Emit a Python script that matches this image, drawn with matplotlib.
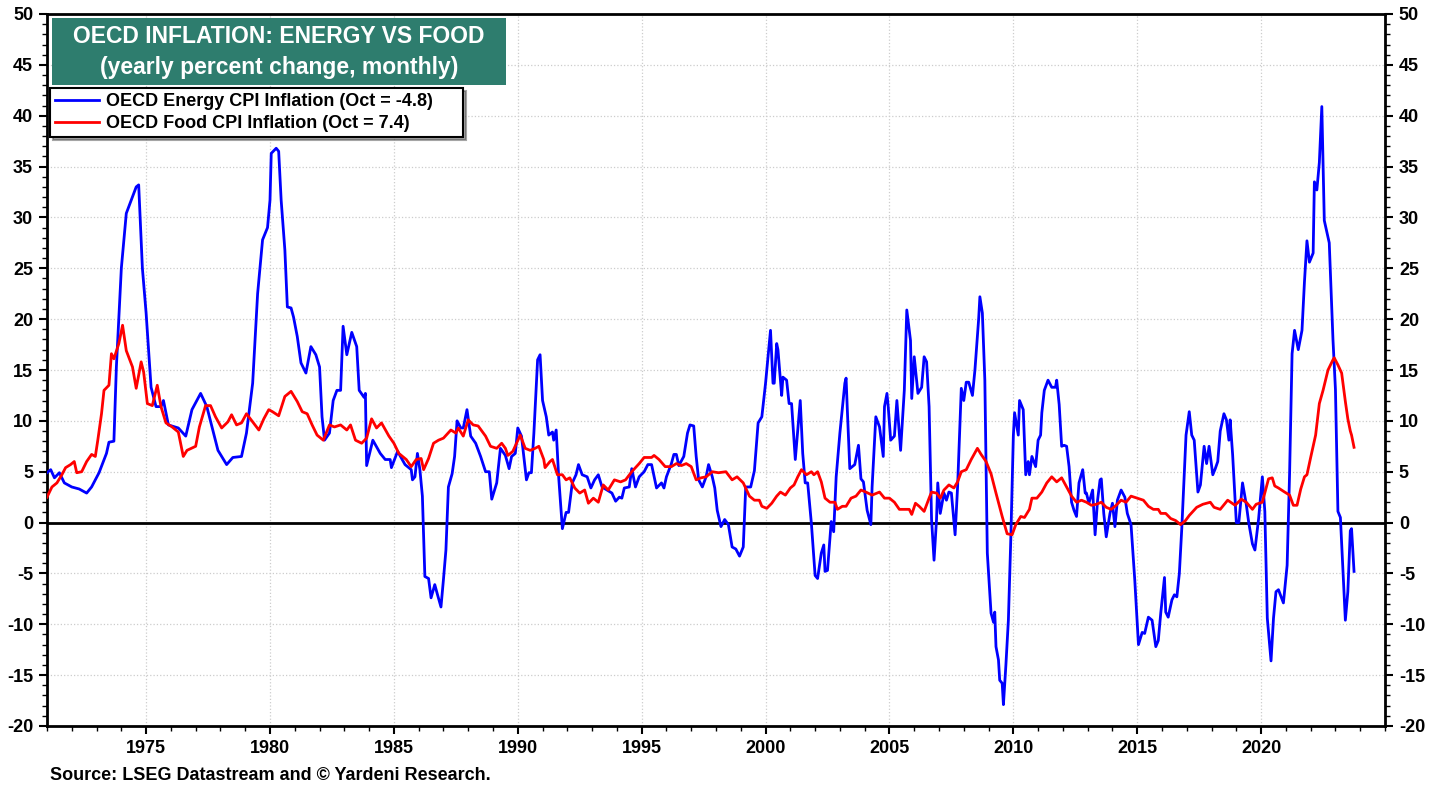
import matplotlib
matplotlib.use("Agg")
import matplotlib.pyplot as plt
from matplotlib.ticker import MultipleLocator
from matplotlib.patches import Rectangle

# OECD energy CPI inflation, (decimal year, y/y %)
energy_points = [
    (1971.0, 4.9), (1971.15, 5.2), (1971.3, 4.4), (1971.5, 4.9), (1971.7, 3.9),
    (1972.0, 3.5), (1972.3, 3.3), (1972.6, 2.9), (1972.8, 3.5),
    (1973.1, 4.9), (1973.4, 6.8), (1973.5, 7.9), (1973.7, 8.0), (1973.8, 15.3),
    (1974.0, 25.0), (1974.2, 30.4), (1974.4, 31.7), (1974.6, 33.0), (1974.7, 33.2), (1974.85, 25.0),
    (1975.0, 20.6), (1975.2, 13.3), (1975.4, 11.4), (1975.6, 11.4), (1975.7, 12.0), (1975.9, 9.6),
    (1976.3, 9.3), (1976.6, 8.5), (1976.85, 11.1),
    (1977.2, 12.7), (1977.45, 11.4), (1977.9, 7.1),
    (1978.25, 5.7), (1978.5, 6.4), (1978.85, 6.5),
    (1979.05, 8.8), (1979.3, 13.7), (1979.5, 22.5), (1979.7, 27.8), (1979.9, 29.0),
    (1980.0, 31.7), (1980.05, 36.3), (1980.25, 36.8), (1980.35, 36.5), (1980.45, 31.7),
    (1980.6, 26.8), (1980.7, 21.2), (1980.85, 21.1), (1980.95, 20.2),
    (1981.1, 18.3), (1981.25, 15.7), (1981.45, 14.7), (1981.65, 17.3), (1981.85, 16.5),
    (1982.0, 15.3), (1982.1, 10.4), (1982.2, 8.1), (1982.4, 8.8), (1982.55, 12.0),
    (1982.7, 13.0), (1982.85, 13.0), (1982.95, 19.3),
    (1983.1, 16.5), (1983.3, 18.7), (1983.5, 17.3), (1983.6, 13.0), (1983.8, 12.3),
    (1983.85, 12.7), (1983.9, 5.6),
    (1984.15, 8.1), (1984.45, 6.8), (1984.65, 6.2), (1984.85, 6.2), (1984.9, 5.4),
    (1985.15, 7.0), (1985.45, 5.7), (1985.7, 5.2), (1985.75, 4.2), (1985.85, 4.5), (1985.95, 6.8),
    (1986.05, 5.2), (1986.15, 2.6), (1986.25, -5.3), (1986.4, -5.5), (1986.5, -7.4),
    (1986.65, -6.1), (1986.75, -7.0), (1986.9, -8.3),
    (1987.0, -5.6), (1987.1, -2.7), (1987.2, 3.5), (1987.35, 4.8), (1987.45, 6.5),
    (1987.55, 10.0), (1987.7, 9.3), (1987.8, 9.3), (1987.95, 11.1),
    (1988.1, 8.5), (1988.3, 7.8), (1988.5, 6.5), (1988.7, 5.0), (1988.85, 5.0), (1988.95, 2.3),
    (1989.15, 3.9), (1989.3, 7.3), (1989.5, 6.6), (1989.65, 5.3), (1989.75, 6.5), (1989.9, 6.8),
    (1990.0, 9.3), (1990.15, 8.5), (1990.35, 4.2), (1990.45, 4.9), (1990.55, 4.9),
    (1990.65, 8.8), (1990.8, 16.0), (1990.9, 16.5),
    (1991.0, 12.0), (1991.15, 10.4), (1991.25, 8.6), (1991.4, 8.9), (1991.45, 8.1),
    (1991.55, 9.1), (1991.65, 4.5), (1991.8, -0.6), (1991.95, 1.0),
    (1992.05, 1.0), (1992.2, 3.9), (1992.35, 4.7), (1992.45, 5.7), (1992.6, 4.7),
    (1992.8, 4.5), (1992.95, 3.4),
    (1993.1, 4.2), (1993.25, 4.7), (1993.4, 3.5), (1993.6, 3.2), (1993.8, 2.9), (1993.95, 2.1),
    (1994.1, 2.5), (1994.2, 2.4), (1994.3, 3.4), (1994.5, 3.5), (1994.6, 5.3),
    (1994.75, 3.5), (1994.9, 4.5),
    (1995.1, 5.0), (1995.25, 5.7), (1995.4, 5.7), (1995.6, 3.4), (1995.8, 3.9), (1995.9, 3.4),
    (1996.0, 4.5), (1996.2, 5.8), (1996.3, 6.7), (1996.4, 6.7), (1996.5, 5.6),
    (1996.7, 6.5), (1996.85, 8.8), (1996.95, 9.6),
    (1997.1, 9.5), (1997.2, 6.5), (1997.3, 4.2), (1997.45, 3.5), (1997.6, 4.5),
    (1997.7, 5.7), (1997.85, 4.5), (1997.95, 3.4),
    (1998.05, 1.2), (1998.2, -0.4), (1998.35, 0.3), (1998.5, -0.2), (1998.65, -2.4),
    (1998.8, -2.6), (1998.95, -3.3),
    (1999.1, -2.4), (1999.2, 3.5), (1999.4, 3.5), (1999.55, 5.1), (1999.7, 9.8), (1999.85, 10.4),
    (2000.0, 13.7), (2000.1, 16.3), (2000.2, 18.9), (2000.3, 13.7), (2000.35, 13.7),
    (2000.45, 17.6), (2000.5, 17.0), (2000.65, 12.5), (2000.7, 14.3), (2000.85, 14.0), (2000.95, 11.7),
    (2001.05, 11.7), (2001.2, 6.2), (2001.4, 12.0), (2001.5, 6.8), (2001.6, 3.9),
    (2001.7, 3.9), (2001.85, -0.1),
    (2002.0, -5.2), (2002.1, -5.5), (2002.25, -3.0), (2002.35, -2.2), (2002.4, -4.8),
    (2002.5, -4.7), (2002.65, 0.1), (2002.75, -0.9), (2002.85, 4.5),
    (2003.0, 8.8), (2003.2, 13.7), (2003.25, 14.2), (2003.3, 11.1), (2003.4, 5.3),
    (2003.6, 5.7), (2003.75, 7.6), (2003.85, 4.3), (2003.95, 4.0),
    (2004.1, 1.2), (2004.25, -0.2), (2004.3, 3.5), (2004.45, 10.4), (2004.6, 9.4),
    (2004.75, 6.5), (2004.8, 11.4), (2004.9, 12.7), (2004.95, 11.4),
    (2005.05, 8.1), (2005.2, 8.5), (2005.3, 12.0), (2005.45, 7.1), (2005.6, 13.0),
    (2005.7, 20.9), (2005.85, 17.9), (2005.9, 12.2),
    (2006.0, 16.3), (2006.15, 12.7), (2006.3, 13.3), (2006.4, 16.3), (2006.5, 15.8),
    (2006.6, 11.4), (2006.7, 0.3), (2006.8, -3.7), (2006.9, 0.3), (2006.95, 3.9),
    (2007.05, 0.9), (2007.2, 2.9), (2007.3, 2.2), (2007.4, 3.0), (2007.5, 2.9),
    (2007.65, -1.2), (2007.75, 3.5), (2007.9, 13.2),
    (2008.0, 12.0), (2008.1, 13.8), (2008.2, 13.8), (2008.35, 12.5), (2008.45, 15.0),
    (2008.6, 20.0), (2008.65, 22.2), (2008.75, 20.6), (2008.85, 14.0), (2008.95, -3.0),
    (2009.1, -8.9), (2009.2, -9.8), (2009.25, -8.8), (2009.3, -12.2), (2009.4, -13.5),
    (2009.45, -15.5), (2009.55, -15.8), (2009.6, -17.9), (2009.7, -14.0), (2009.8, -9.6), (2009.9, -1.4),
    (2010.0, 8.5), (2010.05, 10.8), (2010.2, 8.6), (2010.25, 12.0), (2010.4, 11.1),
    (2010.5, 4.7), (2010.6, 6.0), (2010.65, 4.7), (2010.75, 6.5), (2010.9, 5.5),
    (2011.0, 8.1), (2011.1, 8.6), (2011.15, 10.8), (2011.25, 13.0), (2011.4, 14.0),
    (2011.55, 13.3), (2011.7, 13.3), (2011.75, 14.0), (2011.85, 11.6), (2011.95, 7.5),
    (2012.05, 7.6), (2012.15, 7.5), (2012.25, 5.5), (2012.35, 2.0), (2012.45, 1.2),
    (2012.55, 0.6), (2012.65, 3.9), (2012.8, 5.2), (2012.9, 2.9), (2012.95, 2.9),
    (2013.05, 1.9), (2013.2, 3.2), (2013.3, -1.2), (2013.4, 2.2), (2013.5, 4.2),
    (2013.55, 4.3), (2013.65, 0.9), (2013.75, -1.4), (2013.9, 0.9),
    (2014.0, 1.9), (2014.1, -0.4), (2014.2, 2.2), (2014.35, 3.2), (2014.5, 2.5),
    (2014.6, 0.9), (2014.75, -0.2), (2014.9, -5.6),
    (2015.05, -12.0), (2015.2, -10.8), (2015.3, -10.9), (2015.45, -9.3), (2015.6, -9.6),
    (2015.75, -12.2), (2015.85, -11.6), (2015.95, -8.9),
    (2016.1, -5.4), (2016.15, -8.8), (2016.25, -9.3), (2016.4, -7.6), (2016.5, -7.1),
    (2016.6, -7.3), (2016.7, -5.0), (2016.8, -0.5), (2016.97, 8.6),
    (2017.1, 10.9), (2017.2, 8.6), (2017.3, 8.1), (2017.45, 3.0), (2017.55, 3.7),
    (2017.7, 7.5), (2017.8, 5.8), (2017.9, 7.5),
    (2018.05, 4.7), (2018.15, 5.3), (2018.25, 6.0), (2018.35, 9.0), (2018.5, 10.7),
    (2018.6, 10.1), (2018.7, 8.1), (2018.75, 10.1), (2018.85, 6.7),
    (2019.0, 0.0), (2019.1, 0.0), (2019.25, 3.9), (2019.4, 1.8), (2019.5, 0.0),
    (2019.65, -2.1), (2019.75, -2.7), (2019.9, 0.4),
    (2020.05, 4.5), (2020.15, 1.1), (2020.25, -9.4), (2020.4, -13.6), (2020.5, -9.4),
    (2020.6, -6.8), (2020.7, -6.6), (2020.9, -7.9),
    (2021.05, -4.2), (2021.15, 4.9), (2021.25, 16.6), (2021.35, 18.9), (2021.5, 17.0),
    (2021.65, 18.9), (2021.75, 23.7), (2021.85, 27.7), (2021.95, 25.6),
    (2022.1, 26.5), (2022.15, 33.5), (2022.25, 32.7), (2022.35, 35.4), (2022.45, 40.9),
    (2022.55, 29.7), (2022.75, 27.5), (2022.9, 18.0),
    (2023.0, 13.1), (2023.1, 1.1), (2023.2, 0.5), (2023.3, -4.6), (2023.4, -9.6),
    (2023.5, -6.8), (2023.6, -0.8), (2023.65, -0.6), (2023.75, -4.8),
]

# OECD food CPI inflation, (decimal year, y/y %)
food_points = [
    (1971.0, 2.5), (1971.2, 3.5), (1971.4, 3.9), (1971.6, 4.7), (1971.75, 5.4), (1971.95, 5.7),
    (1972.1, 6.0), (1972.2, 4.9), (1972.4, 5.0), (1972.6, 6.0), (1972.8, 6.7), (1972.95, 6.5),
    (1973.05, 8.1), (1973.2, 10.7), (1973.3, 13.0), (1973.5, 13.5), (1973.6, 16.6),
    (1973.7, 16.1), (1973.9, 17.6),
    (1974.05, 19.4), (1974.2, 16.9), (1974.45, 15.3), (1974.6, 13.2), (1974.8, 15.8), (1974.9, 14.8),
    (1975.05, 11.7), (1975.25, 11.5), (1975.45, 13.5), (1975.6, 11.4), (1975.8, 9.8),
    (1976.05, 9.4), (1976.3, 8.9), (1976.5, 6.5), (1976.65, 7.1),
    (1977.0, 7.5), (1977.15, 9.4), (1977.4, 11.5), (1977.6, 11.5), (1977.8, 10.4),
    (1978.05, 9.3), (1978.3, 9.9), (1978.45, 10.6), (1978.65, 9.6), (1978.85, 9.8),
    (1979.05, 10.7), (1979.3, 9.9), (1979.55, 9.1), (1979.75, 10.2), (1979.95, 11.1),
    (1980.1, 10.9), (1980.35, 10.5), (1980.6, 12.4), (1980.85, 12.9),
    (1981.1, 11.9), (1981.3, 10.9), (1981.5, 10.7), (1981.7, 9.6), (1981.9, 8.6),
    (1982.15, 8.1), (1982.4, 9.6), (1982.6, 9.4), (1982.85, 9.6),
    (1983.1, 9.1), (1983.25, 9.6), (1983.45, 8.1), (1983.7, 7.8), (1983.9, 8.3),
    (1984.1, 10.2), (1984.3, 9.3), (1984.5, 9.8), (1984.8, 8.5),
    (1985.0, 7.8), (1985.2, 6.8), (1985.5, 6.2), (1985.7, 5.5), (1985.9, 6.2),
    (1986.1, 6.3), (1986.2, 5.2), (1986.4, 6.3), (1986.6, 7.8), (1986.8, 8.1),
    (1987.0, 8.3), (1987.3, 9.1), (1987.5, 8.8), (1987.6, 9.3), (1987.8, 8.5),
    (1988.0, 10.1), (1988.2, 9.6), (1988.4, 9.5), (1988.7, 8.5), (1988.9, 7.5),
    (1989.15, 7.3), (1989.35, 7.8), (1989.5, 7.3), (1989.6, 6.6), (1989.8, 7.0), (1989.95, 7.8),
    (1990.1, 8.6), (1990.3, 7.3), (1990.5, 7.1), (1990.7, 7.3), (1990.85, 7.5),
    (1991.05, 6.2), (1991.1, 5.4), (1991.3, 6.0), (1991.4, 6.2), (1991.6, 4.7),
    (1991.8, 4.7), (1991.95, 4.2),
    (1992.1, 4.4), (1992.3, 3.4), (1992.5, 2.9), (1992.7, 3.2), (1992.85, 1.9),
    (1993.05, 2.4), (1993.25, 2.0), (1993.45, 3.7), (1993.65, 3.2), (1993.9, 4.2),
    (1994.15, 4.0), (1994.35, 4.2), (1994.6, 5.0), (1994.9, 5.8),
    (1995.1, 6.4), (1995.4, 6.4), (1995.5, 6.6), (1995.7, 6.2), (1995.95, 5.5),
    (1996.2, 5.5), (1996.4, 5.8), (1996.6, 5.6), (1996.8, 5.8),
    (1997.0, 5.5), (1997.2, 4.2), (1997.4, 4.4), (1997.6, 4.5), (1997.85, 5.0),
    (1998.1, 4.9), (1998.4, 5.0), (1998.65, 4.2), (1998.85, 4.5),
    (1999.1, 3.9), (1999.35, 2.6), (1999.55, 2.2), (1999.75, 2.2), (1999.85, 1.6),
    (2000.05, 1.4), (2000.25, 1.9), (2000.45, 2.6), (2000.6, 3.0), (2000.8, 2.7),
    (2001.0, 3.4), (2001.15, 3.7), (2001.3, 4.5), (2001.45, 5.2), (2001.65, 4.7),
    (2001.85, 5.0), (2001.95, 4.7),
    (2002.1, 5.0), (2002.25, 4.0), (2002.4, 2.4), (2002.6, 2.0), (2002.8, 2.0), (2002.9, 1.3),
    (2003.1, 1.6), (2003.25, 1.6), (2003.45, 2.4), (2003.65, 2.6), (2003.85, 3.2),
    (2004.05, 3.0), (2004.3, 2.7), (2004.6, 3.0), (2004.8, 2.4),
    (2005.0, 2.4), (2005.2, 2.0), (2005.4, 1.3), (2005.6, 1.3), (2005.8, 1.3), (2005.9, 0.8),
    (2006.05, 1.9), (2006.2, 1.6), (2006.4, 1.1), (2006.6, 2.4), (2006.7, 3.0), (2006.9, 2.9),
    (2007.05, 2.4), (2007.2, 3.2), (2007.4, 3.7), (2007.6, 3.4), (2007.75, 4.0), (2007.9, 5.0),
    (2008.1, 5.2), (2008.3, 6.2), (2008.55, 7.3), (2008.7, 6.7), (2008.9, 6.0),
    (2009.1, 4.8), (2009.3, 2.9), (2009.55, 0.6), (2009.75, -1.1), (2009.95, -1.2),
    (2010.1, -0.2), (2010.3, 0.6), (2010.45, 0.5), (2010.65, 1.3), (2010.75, 2.4), (2010.95, 2.4),
    (2011.15, 3.0), (2011.35, 3.9), (2011.55, 4.5), (2011.75, 4.0), (2011.95, 4.4),
    (2012.15, 3.5), (2012.35, 2.6), (2012.55, 2.0), (2012.75, 2.2), (2012.95, 2.0),
    (2013.15, 1.7), (2013.35, 1.8), (2013.55, 2.0), (2013.75, 1.5), (2013.95, 1.3),
    (2014.15, 1.7), (2014.35, 2.2), (2014.55, 2.0), (2014.75, 2.6),
    (2015.0, 2.4), (2015.25, 2.2), (2015.45, 1.6), (2015.65, 1.3), (2015.85, 1.3), (2015.95, 0.9),
    (2016.15, 0.9), (2016.35, 0.4), (2016.55, 0.2), (2016.75, -0.2), (2016.95, 0.2),
    (2017.1, 0.7), (2017.4, 1.5), (2017.65, 1.8), (2017.95, 2.0),
    (2018.1, 1.5), (2018.35, 1.3), (2018.65, 2.2), (2018.95, 1.7),
    (2019.2, 2.3), (2019.4, 2.0), (2019.65, 1.3), (2019.8, 1.8),
    (2020.05, 2.0), (2020.2, 3.4), (2020.3, 4.3), (2020.45, 4.4), (2020.55, 3.6),
    (2020.7, 3.4), (2020.95, 3.0),
    (2021.15, 2.7), (2021.3, 1.7), (2021.45, 1.7), (2021.6, 3.3), (2021.75, 4.5), (2021.85, 4.7),
    (2022.0, 6.4), (2022.2, 8.6), (2022.35, 11.7), (2022.5, 13.0), (2022.7, 15.0),
    (2022.9, 16.0), (2022.95, 16.2),
    (2023.1, 15.5), (2023.25, 14.7), (2023.4, 11.9), (2023.5, 10.2), (2023.6, 9.0),
    (2023.65, 8.6), (2023.75, 7.4),
]

title_lines = ["OECD INFLATION: ENERGY VS FOOD", "(yearly percent change, monthly)"]
energy_label = "OECD Energy CPI Inflation (Oct = -4.8)"
food_label = "OECD Food CPI Inflation (Oct = 7.4)"
source_note = "Source: LSEG Datastream and \u00a9 Yardeni Research."
year_ticks = list(range(1975, 2021, 5))

plt.rcParams['font.family'] = ['Liberation Sans', 'DejaVu Sans']
plt.rcParams['font.weight'] = 'bold'
plt.rcParams['axes.unicode_minus'] = False

fig = plt.figure(figsize=(14.4, 7.88), dpi=100)
ax = fig.add_axes([47 / 1440, 1 - 726 / 788, 1338 / 1440, 712 / 788])

energy_dates = [p[0] for p in energy_points]
energy_vals = [p[1] for p in energy_points]
food_dates = [p[0] for p in food_points]
food_vals = [p[1] for p in food_points]

ax.axhline(0, color='black', linewidth=2, zorder=2)
ax.plot(energy_dates, energy_vals, color='#0000FF', linewidth=2.0, label=energy_label, zorder=3)
ax.plot(food_dates, food_vals, color='#FF0000', linewidth=2.0, label=food_label, zorder=3)

# axes setup
ax.set_xlim(1971, 2025)
ax.set_ylim(-20, 50)
ax.set_xticks(year_ticks)
ax.xaxis.set_minor_locator(MultipleLocator(1))
ax.yaxis.set_major_locator(MultipleLocator(5))
ax.yaxis.set_minor_locator(MultipleLocator(1))
ax.tick_params(axis='both', which='major', direction='out', length=6, width=1.5,
               labelsize=13, pad=4)
ax.tick_params(axis='both', which='minor', direction='out', length=3.5, width=1)
ax.tick_params(axis='y', which='both', left=True, right=True, labelleft=True, labelright=True)
ax.grid(True, which='major', color='#cccccc', linestyle=':', linewidth=0.9)
ax.set_axisbelow(True)
for s in ax.spines.values():
    s.set_linewidth(2)

# title box
ax.add_patch(Rectangle((0.0037, 0.9003), 0.339, 0.0941, transform=ax.transAxes,
                       facecolor='#2E7D6E', edgecolor='none', zorder=5))
ax.text(0.1734, 0.9677, title_lines[0], transform=ax.transAxes, ha='center', va='center',
        color='white', fontsize=16.5, fontweight='bold', zorder=6)
ax.text(0.1734, 0.9242, title_lines[1], transform=ax.transAxes, ha='center', va='center',
        color='white', fontsize=16.5, fontweight='bold', zorder=6)

# legend box stretched to the reference width
leg = ax.legend(loc='upper left', bbox_to_anchor=(0.0022, 0.826, 0.3087, 0.07),
                mode='expand', borderaxespad=0,
                frameon=True, fancybox=False, shadow=True, edgecolor='black',
                prop={'weight': 'bold', 'size': 13}, handlelength=2.4,
                handletextpad=0.4, borderpad=0.3, labelspacing=0.25)
leg.get_frame().set_linewidth(1.5)
leg.set_zorder(6)

fig.text(50 / 1440, 1 - 775 / 788, source_note, ha='left', va='center',
         fontsize=13, fontweight='bold')

fig.savefig('out.png', dpi=100)
